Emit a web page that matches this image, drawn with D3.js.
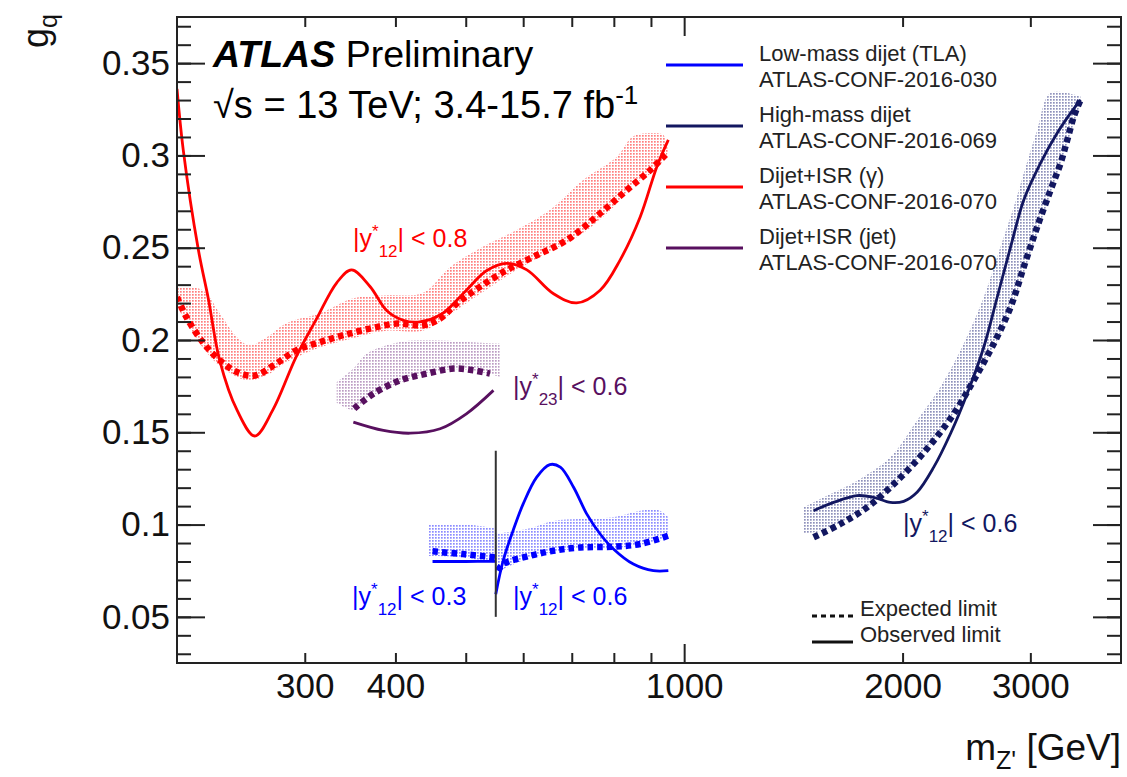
<!DOCTYPE html>
<html>
<head>
<meta charset="utf-8">
<script src="https://cdn.jsdelivr.net/npm/d3@7"></script>
<style>
  body { margin: 0; background: #fff; }
  text { font-family: "Liberation Sans", Arial, Helvetica, sans-serif; }
</style>
</head>
<body>
<div id="chart"></div>
<script>
// Dijet+ISR (gamma), |y*12| < 0.8
var redObsMass = [200, 204, 214, 221, 229, 242, 256, 271, 292, 311, 332, 348, 369, 389, 410, 432, 465, 501, 534, 569, 607, 660, 711, 766, 816, 870, 917, 951];
var redObsG    = [0.336, 0.303, 0.249, 0.222, 0.189, 0.162, 0.148, 0.162, 0.191, 0.211, 0.231, 0.238, 0.229, 0.216, 0.2107, 0.2098, 0.2145, 0.227, 0.2375, 0.2415, 0.238, 0.2252, 0.2201, 0.227, 0.2433, 0.2668, 0.2939, 0.3084];
var redExpMass = [200, 206, 217, 229, 242, 256, 274, 292, 315, 339, 369, 402, 437, 461, 486, 523, 569, 620, 689, 766, 834, 898, 947];
var redExpG    = [0.2233, 0.2125, 0.1989, 0.189, 0.1826, 0.1808, 0.1872, 0.1944, 0.1989, 0.2026, 0.2062, 0.2089, 0.208, 0.2116, 0.2198, 0.2288, 0.2378, 0.2451, 0.2541, 0.2686, 0.2813, 0.2921, 0.3012];
var redBandMass = [200, 217, 229, 242, 252, 266, 283, 315, 350, 389, 436, 476, 528, 588, 653, 726, 808, 850, 898, 936, 950];
var redBandHi   = [0.2286, 0.227, 0.2145, 0.2015, 0.1971, 0.2015, 0.2091, 0.2145, 0.2226, 0.2243, 0.2254, 0.2396, 0.2505, 0.2596, 0.2704, 0.2867, 0.2993, 0.3102, 0.3121, 0.3111, 0.302];
var redBandLo   = [0.218, 0.196, 0.186, 0.180, 0.178, 0.181, 0.188, 0.196, 0.201, 0.205, 0.205, 0.214, 0.226, 0.238, 0.248, 0.258, 0.274, 0.284, 0.290, 0.297, 0.302];

// Dijet+ISR (jet), |y*23| < 0.6
var purObsMass = [350, 385, 419, 461, 501, 546];
var purObsG    = [0.1555, 0.151, 0.1495, 0.1519, 0.16, 0.1727];
var purExpMass = [351, 373, 406, 442, 481, 512, 540];
var purExpG    = [0.1628, 0.1709, 0.1781, 0.1818, 0.1845, 0.1836, 0.1818];
var purBandMass = [332, 351, 365, 406, 451, 501, 557];
var purBandHi   = [0.1772, 0.185, 0.1926, 0.1989, 0.1998, 0.1989, 0.198];
var purBandLo   = [0.166, 0.162, 0.168, 0.177, 0.183, 0.184, 0.180];

// Low-mass dijet (TLA), |y*12| < 0.3 and < 0.6
var tlaAObsMass = [450, 500, 549];
var tlaAObsG    = [0.080, 0.080, 0.0801];
var tlaAExpMass = [450, 496, 549];
var tlaAExpG    = [0.0855, 0.084, 0.0822];
var tlaABandMass = [445, 500, 550];
var tlaABandHi   = [0.100, 0.100, 0.098];
var tlaABandLo   = [0.083, 0.082, 0.079];
var tlaBObsMass = [550, 563, 581, 600, 626, 653, 675, 704, 734, 766, 799, 851, 907, 951];
var tlaBObsG    = [0.0623, 0.0804, 0.0967, 0.1112, 0.1256, 0.1325, 0.1311, 0.1202, 0.1058, 0.0949, 0.0868, 0.0786, 0.075, 0.075];
var tlaBExpMass = [554, 563, 613, 660, 719, 799, 870, 951];
var tlaBExpG    = [0.075, 0.0786, 0.0831, 0.0858, 0.0876, 0.088, 0.0895, 0.094];
var tlaBBandMass = [550, 613, 660, 719, 799, 870, 920, 951];
var tlaBBandHi   = [0.095, 0.098, 0.102, 0.103, 0.104, 0.1075, 0.108, 0.104];
var tlaBBandLo   = [0.074, 0.082, 0.085, 0.087, 0.087, 0.089, 0.091, 0.094];
var tlaSplit = {mass: 550, g0: 0.05, g1: 0.14};

// High-mass dijet, |y*12| < 0.6
var highObsMass = [1508, 1607, 1731, 1824, 1924, 2007, 2094, 2208, 2328, 2455, 2588, 2701, 2818, 2938, 3098, 3267, 3408, 3518];
var highObsG    = [0.1075, 0.112, 0.1157, 0.1148, 0.112, 0.1126, 0.1175, 0.1311, 0.1492, 0.1709, 0.1962, 0.2233, 0.2505, 0.2758, 0.2958, 0.3121, 0.3229, 0.3301];
var highExpMass = [1508, 1641, 1787, 1924, 2072, 2208, 2353, 2506, 2671, 2818, 2938, 3066, 3199, 3302, 3373, 3444, 3518];
var highExpG    = [0.0931, 0.1003, 0.1093, 0.1202, 0.1329, 0.1455, 0.16, 0.1781, 0.198, 0.2179, 0.2396, 0.2613, 0.2813, 0.2958, 0.3084, 0.3211, 0.3301];
var highBandMass = [1461, 1557, 1731, 1924, 2094, 2255, 2428, 2588, 2729, 2847, 2938, 3066, 3199, 3518];
var highBandHi   = [0.1093, 0.1148, 0.1238, 0.1365, 0.1564, 0.1745, 0.198, 0.2233, 0.2505, 0.2722, 0.2903, 0.3138, 0.3338, 0.3319];
var highBandLo   = [0.095, 0.097, 0.106, 0.119, 0.135, 0.150, 0.169, 0.187, 0.203, 0.221, 0.236, 0.258, 0.279, 0.328];

var legendNames = [
  ["Low-mass dijet (TLA)", "ATLAS-CONF-2016-030"],
  ["High-mass dijet", "ATLAS-CONF-2016-069"],
  ["Dijet+ISR (\u03b3)", "ATLAS-CONF-2016-070"],
  ["Dijet+ISR (jet)", "ATLAS-CONF-2016-070"]
];
var yMajorTicks = [0.05, 0.1, 0.15, 0.2, 0.25, 0.3, 0.35];
var yMinorTicks = d3.range(3, 38).map(function(d) { return d / 100; });
var xMajorTicks = [1000];
var xMinorTicks = [300, 400, 500, 600, 700, 800, 900, 2000, 3000];
var xLabelled = [300, 400, 1000, 2000, 3000];

var colors = {
  red: "#ff0000",
  purple: "#58105f",
  blue: "#0000ff",
  navy: "#121760"
};

var width = 1127, height = 777;
var frame = {left: 177, top: 17, right: 1121, bottom: 663};

var svg = d3.select("#chart").append("svg")
    .attr("width", width)
    .attr("height", height);

var x = d3.scaleLog().domain([200, 4000]).range([frame.left, frame.right]);
var y = d3.scaleLinear().domain([0.025, 0.375]).range([frame.bottom, frame.top]);

// Dot patterns for bands
var defs = svg.append("defs");
function dotPattern(id, color, opacity) {
  var p = defs.append("pattern")
      .attr("id", id)
      .attr("width", 3)
      .attr("height", 3)
      .attr("patternUnits", "userSpaceOnUse");
  p.append("rect")
      .attr("width", 1.7)
      .attr("height", 1.7)
      .style("fill", color)
      .style("opacity", opacity);
}
dotPattern("dots-red", colors.red, 0.5);
dotPattern("dots-purple", "#7a3a88", 0.5);
dotPattern("dots-blue", colors.blue, 0.45);
dotPattern("dots-navy", "#1e2478", 0.5);

defs.append("clipPath").attr("id", "plot-clip")
  .append("rect")
    .attr("x", frame.left)
    .attr("y", frame.top)
    .attr("width", frame.right - frame.left)
    .attr("height", frame.bottom - frame.top);

var plot = svg.append("g").attr("clip-path", "url(#plot-clip)");

function zip(ms, gs) {
  return ms.map(function(m, i) { return {m: m, g: gs[i]}; });
}

var line = d3.line()
    .x(function(d) { return x(d.m); })
    .y(function(d) { return y(d.g); })
    .curve(d3.curveCatmullRom.alpha(0.5));

var area = d3.area()
    .x(function(d) { return x(d.m); })
    .y0(function(d) { return y(d.lo); })
    .y1(function(d) { return y(d.hi); })
    .curve(d3.curveCatmullRom.alpha(0.5));

function band(ms, lo, hi, pattern) {
  var data = ms.map(function(m, i) { return {m: m, lo: lo[i], hi: hi[i]}; });
  plot.append("path")
      .datum(data)
      .attr("d", area)
      .style("fill", "url(#" + pattern + ")")
      .style("stroke", "none");
}

function expected(ms, gs, color) {
  plot.append("path")
      .datum(zip(ms, gs))
      .attr("d", line)
      .style("fill", "none")
      .style("stroke", color)
      .style("stroke-width", 6.5)
      .style("stroke-dasharray", "5.5,4");
}

function observed(ms, gs, color) {
  plot.append("path")
      .datum(zip(ms, gs))
      .attr("d", line)
      .style("fill", "none")
      .style("stroke", color)
      .style("stroke-width", 2.8)
      .style("stroke-linejoin", "round");
}

// Bands
band(redBandMass, redBandLo, redBandHi, "dots-red");
band(purBandMass, purBandLo, purBandHi, "dots-purple");
band(tlaABandMass, tlaABandLo, tlaABandHi, "dots-blue");
band(tlaBBandMass, tlaBBandLo, tlaBBandHi, "dots-blue");
band(highBandMass, highBandLo, highBandHi, "dots-navy");

// Expected limits
expected(redExpMass, redExpG, colors.red);
expected(purExpMass, purExpG, colors.purple);
expected(tlaAExpMass, tlaAExpG, colors.blue);
expected(tlaBExpMass, tlaBExpG, colors.blue);
expected(highExpMass, highExpG, colors.navy);

// Observed limits
observed(redObsMass, redObsG, colors.red);
observed(purObsMass, purObsG, colors.purple);
observed(tlaAObsMass, tlaAObsG, colors.blue);
observed(tlaBObsMass, tlaBObsG, colors.blue);
observed(highObsMass, highObsG, colors.navy);

// TLA split line
plot.append("line")
    .attr("x1", x(tlaSplit.mass))
    .attr("x2", x(tlaSplit.mass))
    .attr("y1", y(tlaSplit.g0))
    .attr("y2", y(tlaSplit.g1))
    .style("stroke", "#333")
    .style("stroke-width", 2);

// Axes
var axisColor = "#222";
function styleAxis(g) {
  g.select(".domain").remove();
  g.selectAll("line").style("stroke", axisColor).style("stroke-width", 2);
  g.selectAll("text")
      .style("font-family", "'Liberation Sans', Arial, sans-serif")
      .style("font-size", "35px")
      .style("fill", "#111");
}

svg.append("g")
    .attr("transform", "translate(" + frame.left + ",0)")
    .call(d3.axisLeft(y).tickValues(yMinorTicks).tickSize(-14).tickFormat(""))
    .call(styleAxis);
svg.append("g")
    .attr("transform", "translate(" + frame.left + ",0)")
    .call(d3.axisLeft(y).tickValues(yMajorTicks).tickSize(-28).tickPadding(7)
      .tickFormat(function(d) { return d3.format("~g")(d); }))
    .call(styleAxis);
svg.append("g")
    .attr("transform", "translate(" + frame.right + ",0)")
    .call(d3.axisRight(y).tickValues(yMinorTicks).tickSize(-14).tickFormat(""))
    .call(styleAxis);
svg.append("g")
    .attr("transform", "translate(" + frame.right + ",0)")
    .call(d3.axisRight(y).tickValues(yMajorTicks).tickSize(-28).tickFormat(""))
    .call(styleAxis);

svg.append("g")
    .attr("transform", "translate(0," + frame.bottom + ")")
    .call(d3.axisBottom(x).tickValues(xMinorTicks).tickSize(-10).tickPadding(10)
      .tickFormat(function(d) { return xLabelled.indexOf(d) >= 0 ? d : ""; }))
    .call(styleAxis);
svg.append("g")
    .attr("transform", "translate(0," + frame.bottom + ")")
    .call(d3.axisBottom(x).tickValues(xMajorTicks).tickSize(-19).tickPadding(10)
      .tickFormat(function(d) { return d; }))
    .call(styleAxis);
svg.append("g")
    .attr("transform", "translate(0," + frame.top + ")")
    .call(d3.axisTop(x).tickValues(xMinorTicks).tickSize(-10).tickFormat(""))
    .call(styleAxis);
svg.append("g")
    .attr("transform", "translate(0," + frame.top + ")")
    .call(d3.axisTop(x).tickValues(xMajorTicks).tickSize(-19).tickFormat(""))
    .call(styleAxis);

// Frame
svg.append("rect")
    .attr("x", frame.left)
    .attr("y", frame.top)
    .attr("width", frame.right - frame.left)
    .attr("height", frame.bottom - frame.top)
    .style("fill", "none")
    .style("stroke", axisColor)
    .style("stroke-width", 2);

// Axis titles
var xt = svg.append("text")
    .attr("x", frame.right)
    .attr("y", 760)
    .attr("text-anchor", "end")
    .style("font-size", "37px")
    .style("fill", "#111");
xt.append("tspan").text("m");
xt.append("tspan").attr("dy", 9).style("font-size", "25px").text("Z'");
xt.append("tspan").attr("dy", -9).text(" [GeV]");

var yt = svg.append("text")
    .attr("transform", "translate(48,48) rotate(-90)")
    .attr("text-anchor", "start")
    .style("font-size", "36px")
    .style("fill", "#111");
yt.append("tspan").text("g");
yt.append("tspan").attr("dy", 9).style("font-size", "25px").text("q");

// ATLAS label
var atl = svg.append("text")
    .attr("x", 213)
    .attr("y", 67)
    .style("font-size", "37.5px")
    .style("fill", "#000");
atl.append("tspan").style("font-weight", "bold").style("font-style", "italic").text("ATLAS");
atl.append("tspan").text(" Preliminary");

var rs = svg.append("text")
    .attr("x", 213)
    .attr("y", 118)
    .style("font-size", "38px")
    .style("fill", "#000");
rs.append("tspan").text("\u221as = 13 TeV; 3.4-15.7 fb");
rs.append("tspan").attr("dy", -14).style("font-size", "26px").text("-1");

// Region labels
function rapidityLabel(px, py, sub, rest, color) {
  var t = svg.append("text")
      .attr("x", px)
      .attr("y", py)
      .style("font-size", "25px")
      .style("fill", color);
  t.append("tspan").text("|y");
  t.append("tspan").attr("dy", -10).style("font-size", "17px").text("*");
  t.append("tspan").attr("dy", 20).style("font-size", "17px").text(sub);
  t.append("tspan").attr("dy", -10).text("| < " + rest);
}
rapidityLabel(353, 247, "12", "0.8", colors.red);
rapidityLabel(513, 395, "23", "0.6", colors.purple);
rapidityLabel(352, 605, "12", "0.3", colors.blue);
rapidityLabel(513, 605, "12", "0.6", colors.blue);
rapidityLabel(903, 532, "12", "0.6", colors.navy);

// Legend
var legendColors = [colors.blue, colors.navy, colors.red, colors.purple];
var legend = svg.append("g");
legendNames.forEach(function(names, i) {
  var ly = 65 + i * 61;
  legend.append("line")
      .attr("x1", 666).attr("x2", 743)
      .attr("y1", ly).attr("y2", ly)
      .style("stroke", legendColors[i])
      .style("stroke-width", 3);
  legend.append("text")
      .attr("x", 759).attr("y", ly - 4)
      .style("font-size", "22px")
      .style("fill", "#222")
      .text(names[0]);
  legend.append("text")
      .attr("x", 759).attr("y", ly + 22)
      .style("font-size", "22px")
      .style("fill", "#222")
      .text(names[1]);
});

var styleLegend = svg.append("g");
styleLegend.append("line")
    .attr("x1", 812).attr("x2", 853).attr("y1", 616).attr("y2", 616)
    .style("stroke", "#111").style("stroke-width", 3).style("stroke-dasharray", "5,4");
styleLegend.append("line")
    .attr("x1", 812).attr("x2", 853).attr("y1", 642).attr("y2", 642)
    .style("stroke", "#111").style("stroke-width", 3);
styleLegend.append("text")
    .attr("x", 860).attr("y", 616)
    .style("font-size", "22px").style("fill", "#222")
    .text("Expected limit");
styleLegend.append("text")
    .attr("x", 860).attr("y", 642)
    .style("font-size", "22px").style("fill", "#222")
    .text("Observed limit");
</script>
</body>
</html>
